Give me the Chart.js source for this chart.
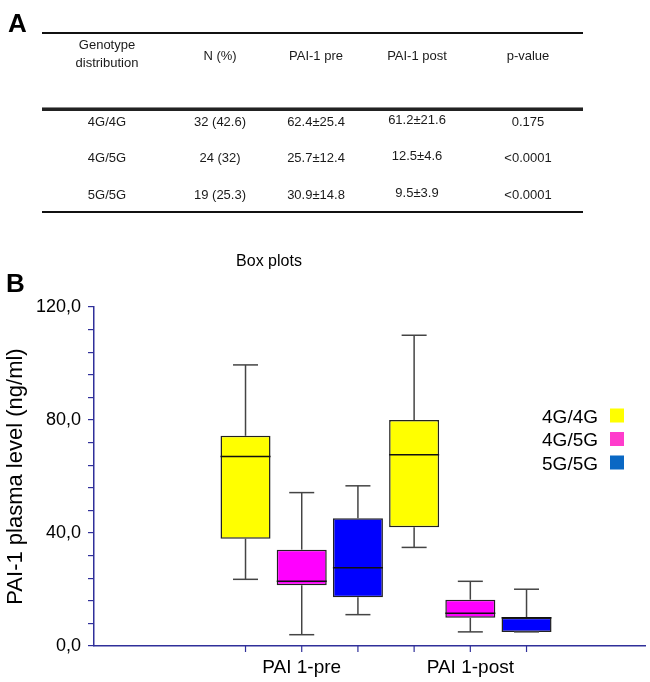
<!DOCTYPE html>
<html>
<head>
<meta charset="utf-8">
<script src="https://cdn.jsdelivr.net/npm/chart.js@4.4.1/dist/chart.umd.min.js"></script>
<style>
  html, body { margin:0; padding:0; background:#fff; }
  body { width:650px; height:682px; position:relative; overflow:hidden; font-family:'Liberation Sans', Arial, sans-serif; }
  #c { position:absolute; left:0; top:0; }
  .t { position:absolute; transform:translate(-50%,-50%); white-space:nowrap; line-height:1; color:#1a1a1a; font-size:13px; z-index:2; text-align:center; }
  .rule { position:absolute; left:42px; width:541px; background:#111; z-index:2; }
  .big { position:absolute; font-weight:bold; font-size:26px; line-height:1; color:#000; z-index:2; }
</style>
</head>
<body>
<canvas id="c" width="650" height="682"></canvas>
<div class="big" style="left:8px;top:10px;">A</div>
<div class="big" style="left:6px;top:270px;">B</div>
<div class="rule" style="top:32px;height:2px;"></div>
<div class="rule" style="top:107px;height:3px;background:#222;border-top:1px solid #888;"></div>
<div class="rule" style="top:211px;height:2px;"></div>
<div class="t" style="left:269px;top:261px;font-size:16px;color:#000;">Box plots</div>
<div id="table"></div>
<script>
// ---------- Table data (panel A) ----------
const tableHeaders = ['Genotype<br>distribution', 'N (%)', 'PAI-1 pre', 'PAI-1 post', 'p-value'];
const tableGenotypes = ['4G/4G', '4G/5G', '5G/5G'];
const tableN = ['32 (42.6)', '24 (32)', '19 (25.3)'];
const tablePre = ['62.4±25.4', '25.7±12.4', '30.9±14.8'];
const tablePost = ['61.2±21.6', '12.5±4.6', '9.5±3.9'];
const tableP = ['0.175', '<0.0001', '<0.0001'];

// ---------- Box plot data (panel B) ----------
const groups = ['PAI 1-pre', 'PAI 1-post'];
const genotypes = ['4G/4G', '4G/5G', '5G/5G'];
// each row: one genotype, values for [pre, post]
const whiskerMin = [[23.6, 34.9], [4.0, 5.0], [11.1, 5.0]];
const quartile1  = [[38.0, 42.0], [21.5, 10.0], [17.3, 5.0]];
const medians    = [[67.1, 67.7], [22.9, 11.6], [27.7, 10.0]];
const quartile3  = [[74.4, 80.0], [34.1, 16.4], [45.2, 10.0]];
const whiskerMax = [[99.5, 110.0], [54.3, 22.9], [56.7, 20.1]];
const yTickValues = [0, 40, 80, 120];

const boxColors = ['#ffff00', '#ff00ff', '#0000ff'];
const legendColors = ['#ffff00', '#ff3ccc', '#0a68c4'];
const navy = '#30309a';
const FONT = "'Liberation Sans', Arial, sans-serif";

// ---------- Build table ----------
(function buildTable(){
  const host = document.getElementById('table');
  const colX = [107, 220, 316, 417, 528];
  const add = (html, x, y) => {
    const d = document.createElement('div');
    d.className = 't';
    d.style.left = x + 'px';
    d.style.top = y + 'px';
    d.innerHTML = html;
    host.appendChild(d);
    return d;
  };
  tableHeaders.forEach((h, i) => {
    const d = add(h, colX[i], 55);
    if (i === 0) { d.style.lineHeight = '18px'; d.style.top = '54px'; }
  });
  const rowY = [121, 157, 194];
  const cols = [tableGenotypes, tableN, tablePre, tablePost, tableP];
  cols.forEach((col, ci) => {
    col.forEach((v, ri) => {
      const txt = v.replace(/</g, '&lt;');
      add(txt, colX[ci], rowY[ri] - (ci === 3 ? 2 : 0));
    });
  });
})();

// ---------- Chart ----------
Chart.defaults.font.family = FONT;

const datasets = genotypes.map((g, gi) => ({
  label: g,
  data: groups.map((_, xi) => ({ x: xi + 1, y: [quartile1[gi][xi], quartile3[gi][xi]] })),
  backgroundColor: boxColors[gi],
  borderColor: '#222',
  borderWidth: 1.5,
  borderSkipped: false,
  categoryPercentage: 1.0,
  barPercentage: 0.89
}));

const boxExtras = {
  id: 'boxExtras',
  afterDatasetsDraw(chart) {
    const { ctx, chartArea } = chart;
    const y = chart.scales.y;
    const line = (x1, y1, x2, y2) => { ctx.beginPath(); ctx.moveTo(x1, y1); ctx.lineTo(x2, y2); ctx.stroke(); };
    ctx.save();
    chart.data.datasets.forEach((ds, gi) => {
      const meta = chart.getDatasetMeta(gi);
      meta.data.forEach((el, xi) => {
        const x = el.x, w = el.width, cap = w / 2;
        const pMin = y.getPixelForValue(whiskerMin[gi][xi]);
        const pQ1 = y.getPixelForValue(quartile1[gi][xi]);
        const pMed = y.getPixelForValue(medians[gi][xi]);
        const pQ3 = y.getPixelForValue(quartile3[gi][xi]);
        const pMax = y.getPixelForValue(whiskerMax[gi][xi]);
        ctx.strokeStyle = '#444';
        ctx.lineWidth = 1.5;
        line(x, pQ3, x, pMax);
        line(x - cap / 2, pMax, x + cap / 2, pMax);
        line(x, pQ1, x, pMin);
        line(x - cap / 2, pMin, x + cap / 2, pMin);
        ctx.strokeStyle = '#111';
        line(x - w / 2, pMed, x + w / 2, pMed);
        // axis tick mark under each box
        ctx.strokeStyle = navy;
        ctx.lineWidth = 1.2;
        line(x, chartArea.bottom, x, chartArea.bottom + 6);
      });
    });
    // legend (text left, swatch right)
    ctx.font = '19px ' + FONT;
    ctx.textAlign = 'right';
    ctx.textBaseline = 'alphabetic';
    genotypes.forEach((g, gi) => {
      const cy = chartArea.top + 108.5 + gi * 23.5;
      ctx.fillStyle = '#000';
      ctx.fillText(g, chartArea.right - 47, cy + 7);
      ctx.fillStyle = legendColors[gi];
      ctx.fillRect(chartArea.right - 35, cy - 7, 14, 14);
    });
    ctx.restore();
  }
};

new Chart(document.getElementById('c'), {
  type: 'bar',
  data: { datasets },
  options: {
    responsive: false,
    animation: false,
    devicePixelRatio: 1,
    layout: { padding: { left: 0, top: 307, right: 5, bottom: 0 } },
    plugins: { legend: { display: false }, tooltip: { enabled: false }, title: { display: false } },
    scales: {
      x: {
        type: 'linear',
        min: -0.232,
        max: 3.036,
        offset: false,
        afterBuildTicks: (s) => { s.ticks = groups.map((_, i) => ({ value: i + 1 })); },
        afterFit: (s) => { s.height = 36; },
        ticks: {
          autoSkip: false, maxRotation: 0, padding: 10, color: '#000',
          font: { size: 19 },
          callback: (v) => groups[Math.round(v) - 1] || ''
        },
        grid: { display: true, offset: false, drawOnChartArea: false, drawTicks: false, color: navy },
        border: { display: true, color: navy, width: 1.5 }
      },
      y: {
        min: 0,
        max: 120,
        afterFit: (s) => { s.width = 94; },
        ticks: {
          stepSize: 8, autoSkip: false, padding: 7, color: '#000',
          font: { size: 18 },
          callback: (v) => yTickValues.includes(v) ? v.toFixed(1).replace('.', ',') : ''
        },
        grid: { display: true, drawOnChartArea: false, drawTicks: true, tickLength: 6, color: navy, lineWidth: 1.2 },
        border: { display: true, color: navy, width: 1.5 },
        title: { display: true, text: 'PAI-1 plasma level (ng/ml)', color: '#000', font: { size: 22 }, padding: { top: 3, bottom: 0 } }
      }
    }
  },
  plugins: [boxExtras]
});
</script>
</body>
</html>
